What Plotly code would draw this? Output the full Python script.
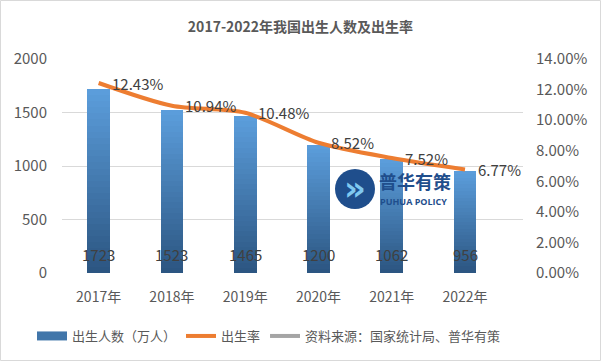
import plotly.graph_objects as go

# ---------------- data ----------------
years = ["2017年", "2018年", "2019年", "2020年", "2021年", "2022年"]
births = [1723, 1523, 1465, 1200, 1062, 956]          # 出生人数（万人）
rates = [12.43, 10.94, 10.48, 8.52, 7.52, 6.77]       # 出生率 %
left_ticks = [0, 500, 1000, 1500, 2000]
right_ticks = [0, 2, 4, 6, 8, 10, 12, 14]

title_text = "2017-2022年我国出生人数及出生率"
bar_name = "出生人数（万人）"
line_name = "出生率"
source_name = "资料来源：国家统计局、普华有策"

FONT = "Noto Sans CJK SC, Microsoft YaHei, sans-serif"
TXT = "#595959"
LBL = "#404040"

# plot area geometry (pixels) for decorative elements
W, H = 601, 361
L, R, T, B = 62, 78, 59, 88
PW, PH = W - L - R, H - T - B


def px(x):
    return (x - L) / PW


def py(y):
    return (H - B - y) / PH


def mix(c1, c2, t):
    return "rgb({},{},{})".format(*[round(a + (b - a) * t) for a, b in zip(c1, c2)])


dark = (0x2C, 0x56, 0x82)
light = (0x5B, 0x9D, 0xDB)

fig = go.Figure()

# gradient bars: stacked slices of each value (bottom dark -> top light)
N = 30
for k in range(N):
    fig.add_trace(go.Bar(
        x=years, y=[v / N for v in births],
        marker=dict(color=mix(dark, light, k / (N - 1)), line=dict(width=0)),
        showlegend=False, hoverinfo="skip", yaxis="y",
    ))

# legend entry for bars
fig.add_trace(go.Scatter(
    x=[None], y=[None], mode="lines", name=bar_name,
    line=dict(color=mix(dark, light, 0.45), width=9),
))

# birth-rate line
fig.add_trace(go.Scatter(
    x=years, y=rates, yaxis="y2", mode="lines", name=line_name,
    line=dict(color="#ED7D31", width=4, shape="spline", smoothing=0.8),
    hoverinfo="skip",
))

# source legend entry
fig.add_trace(go.Scatter(
    x=[None], y=[None], mode="lines", name=source_name,
    line=dict(color="#A5A5A5", width=4),
))

annotations = []
for yr, v in zip(years, births):
    annotations.append(dict(
        x=yr, y=0, xref="x", yref="y", yshift=19, text=str(v), showarrow=False,
        xanchor="center", yanchor="middle", font=dict(size=15, color=LBL, family=FONT),
    ))
for yr, r in zip(years, rates):
    annotations.append(dict(
        x=yr, y=r, xref="x", yref="y2", xshift=11, text="{:.2f}%".format(r), showarrow=False,
        xanchor="left", yanchor="middle", font=dict(size=15, color=LBL, family=FONT),
    ))

# watermark logo
annotations.append(dict(
    x=px(355), y=py(188), xref="paper", yref="paper", text="<b>»</b>", showarrow=False,
    font=dict(size=34, color="#7FC8F0", family="DejaVu Sans"), xanchor="center", yanchor="middle",
))
annotations.append(dict(
    x=px(377), y=py(181), xref="paper", yref="paper", text="<b>普华有策</b>", showarrow=False,
    font=dict(size=18, color="#1F4E8C", family="Noto Sans CJK SC"), xanchor="left", yanchor="middle",
))
annotations.append(dict(
    x=px(378), y=py(201), xref="paper", yref="paper", text="<b>PUHUA POLICY</b>", showarrow=False,
    font=dict(size=9, color="#1F4E8C", family="Open Sans"), xanchor="left", yanchor="middle",
))

shapes = [
    dict(type="circle", xref="paper", yref="paper",
         x0=px(335), x1=px(375), y0=py(209), y1=py(169),
         fillcolor="#1F4E8C", line=dict(width=0), layer="above"),
    dict(type="rect", xref="paper", yref="paper",
         x0=px(0.5), x1=px(W - 0.5), y0=py(H - 0.5), y1=py(0.5),
         line=dict(color="#D9D9D9", width=1), fillcolor="rgba(0,0,0,0)"),
]

fig.update_layout(
    width=W, height=H,
    margin=dict(l=L, r=R, t=T, b=B, autoexpand=False),
    paper_bgcolor="white", plot_bgcolor="white",
    font=dict(family=FONT, color=TXT, size=14),
    title=dict(text="<b>" + title_text + "</b>", x=0.5, xanchor="center",
               y=1 - 27 / H, yanchor="middle", yref="container",
               font=dict(size=14, color=TXT, family=FONT)),
    barmode="stack", bargap=0.69,
    xaxis=dict(type="category", showgrid=False, zeroline=False, showline=False,
               ticks="", ticklabelstandoff=14, tickfont=dict(size=14, color=TXT)),
    yaxis=dict(range=[0, 2000], tickvals=left_ticks, showgrid=True, gridcolor="#D9D9D9",
               gridwidth=1, zeroline=False, showline=False, ticks="",
               ticklabelstandoff=14, tickfont=dict(size=15, color=TXT)),
    yaxis2=dict(range=[0, 14], overlaying="y", side="right", tickvals=right_ticks,
                ticktext=["{:.2f}%".format(t) for t in right_ticks], showgrid=False,
                zeroline=False, showline=False, ticks="", ticklabelstandoff=12,
                tickfont=dict(size=15, color=TXT)),
    legend=dict(orientation="h", x=px(32), xanchor="left", y=py(336), yanchor="middle",
                traceorder="normal",
                font=dict(size=13, color=TXT), bgcolor="rgba(0,0,0,0)"),
    annotations=annotations, shapes=shapes,
    showlegend=True,
)

fig.write_html("out.html", config={"displayModeBar": False},
               post_script="document.body.style.margin='0';")
